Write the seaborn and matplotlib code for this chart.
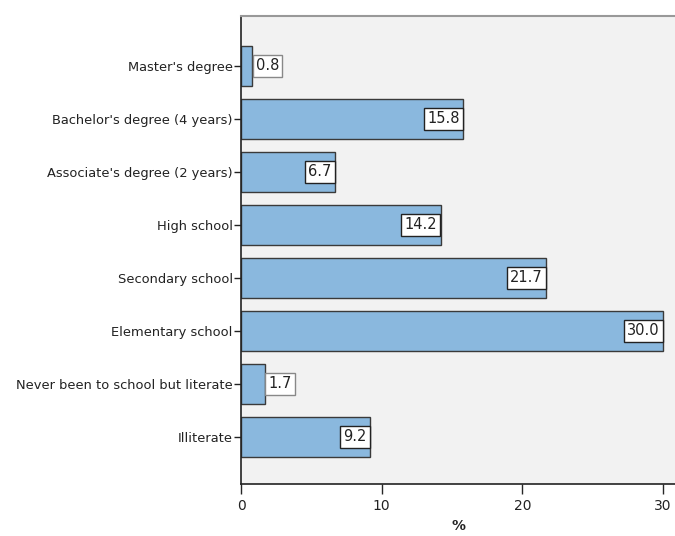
import matplotlib
matplotlib.use("Agg")
import matplotlib.pyplot as plt
import seaborn as sns
import pandas as pd

categories = [
    "Master's degree",
    "Bachelor's degree (4 years)",
    "Associate's degree (2 years)",
    "High school",
    "Secondary school",
    "Elementary school",
    "Never been to school but literate",
    "Illiterate",
]
percent = [0.8, 15.8, 6.7, 14.2, 21.7, 30.0, 1.7, 9.2]
x_ticks = [0, 10, 20, 30]

df = pd.DataFrame({"level": categories, "pct": percent})

sns.set_theme(style="white")
plt.rcParams["font.family"] = ["DejaVu Sans"]

fig = plt.figure(figsize=(6.75, 5.36), dpi=100)
ax = fig.add_axes([241 / 675, 52 / 536, 1 - 241 / 675, 468 / 536])
ax.set_facecolor("#f2f2f2")

sns.barplot(data=df, y="level", x="pct", orient="h", color="#8ab8de",
            saturation=1, width=0.755, edgecolor="#3a3a3a", linewidth=1.0,
            ax=ax, errorbar=None)

ax.set_xlim(0, 30.85)
ax.set_ylim(len(categories) - 1 + 0.89, -0.94)
ax.set_xticks(x_ticks)
ax.set_xticklabels([str(t) for t in x_ticks], fontsize=10, color="#222222")
ax.tick_params(axis="y", labelsize=9.4, colors="#222222", length=5, width=1,
               direction="out", left=True, pad=1)
ax.tick_params(axis="x", length=7, width=1, direction="out", bottom=True, pad=4)
ax.set_ylabel("")
ax.set_xlabel("%", fontsize=10, fontweight="bold", color="#222222", labelpad=4)

for s in ["left", "bottom"]:
    ax.spines[s].set_color("#222222")
    ax.spines[s].set_linewidth(1.2)
ax.spines["top"].set_color("#999999")
ax.spines["top"].set_linewidth(1.5)
ax.spines["right"].set_visible(False)

# value boxes: inside the bar end when there is room, otherwise just outside
for i, v in enumerate(percent):
    label = f"{v:.1f}"
    inside = v > 4
    ax.annotate(label, xy=(v, i), xytext=(-2.6 if inside else 2.6, 0),
                textcoords="offset points",
                ha="right" if inside else "left", va="center",
                fontsize=10.5, color="#222222",
                bbox=dict(boxstyle="square,pad=0.22", fc="white",
                          ec="#222222" if inside else "#888888", lw=1.0))

fig.savefig("out.png", dpi=100)
